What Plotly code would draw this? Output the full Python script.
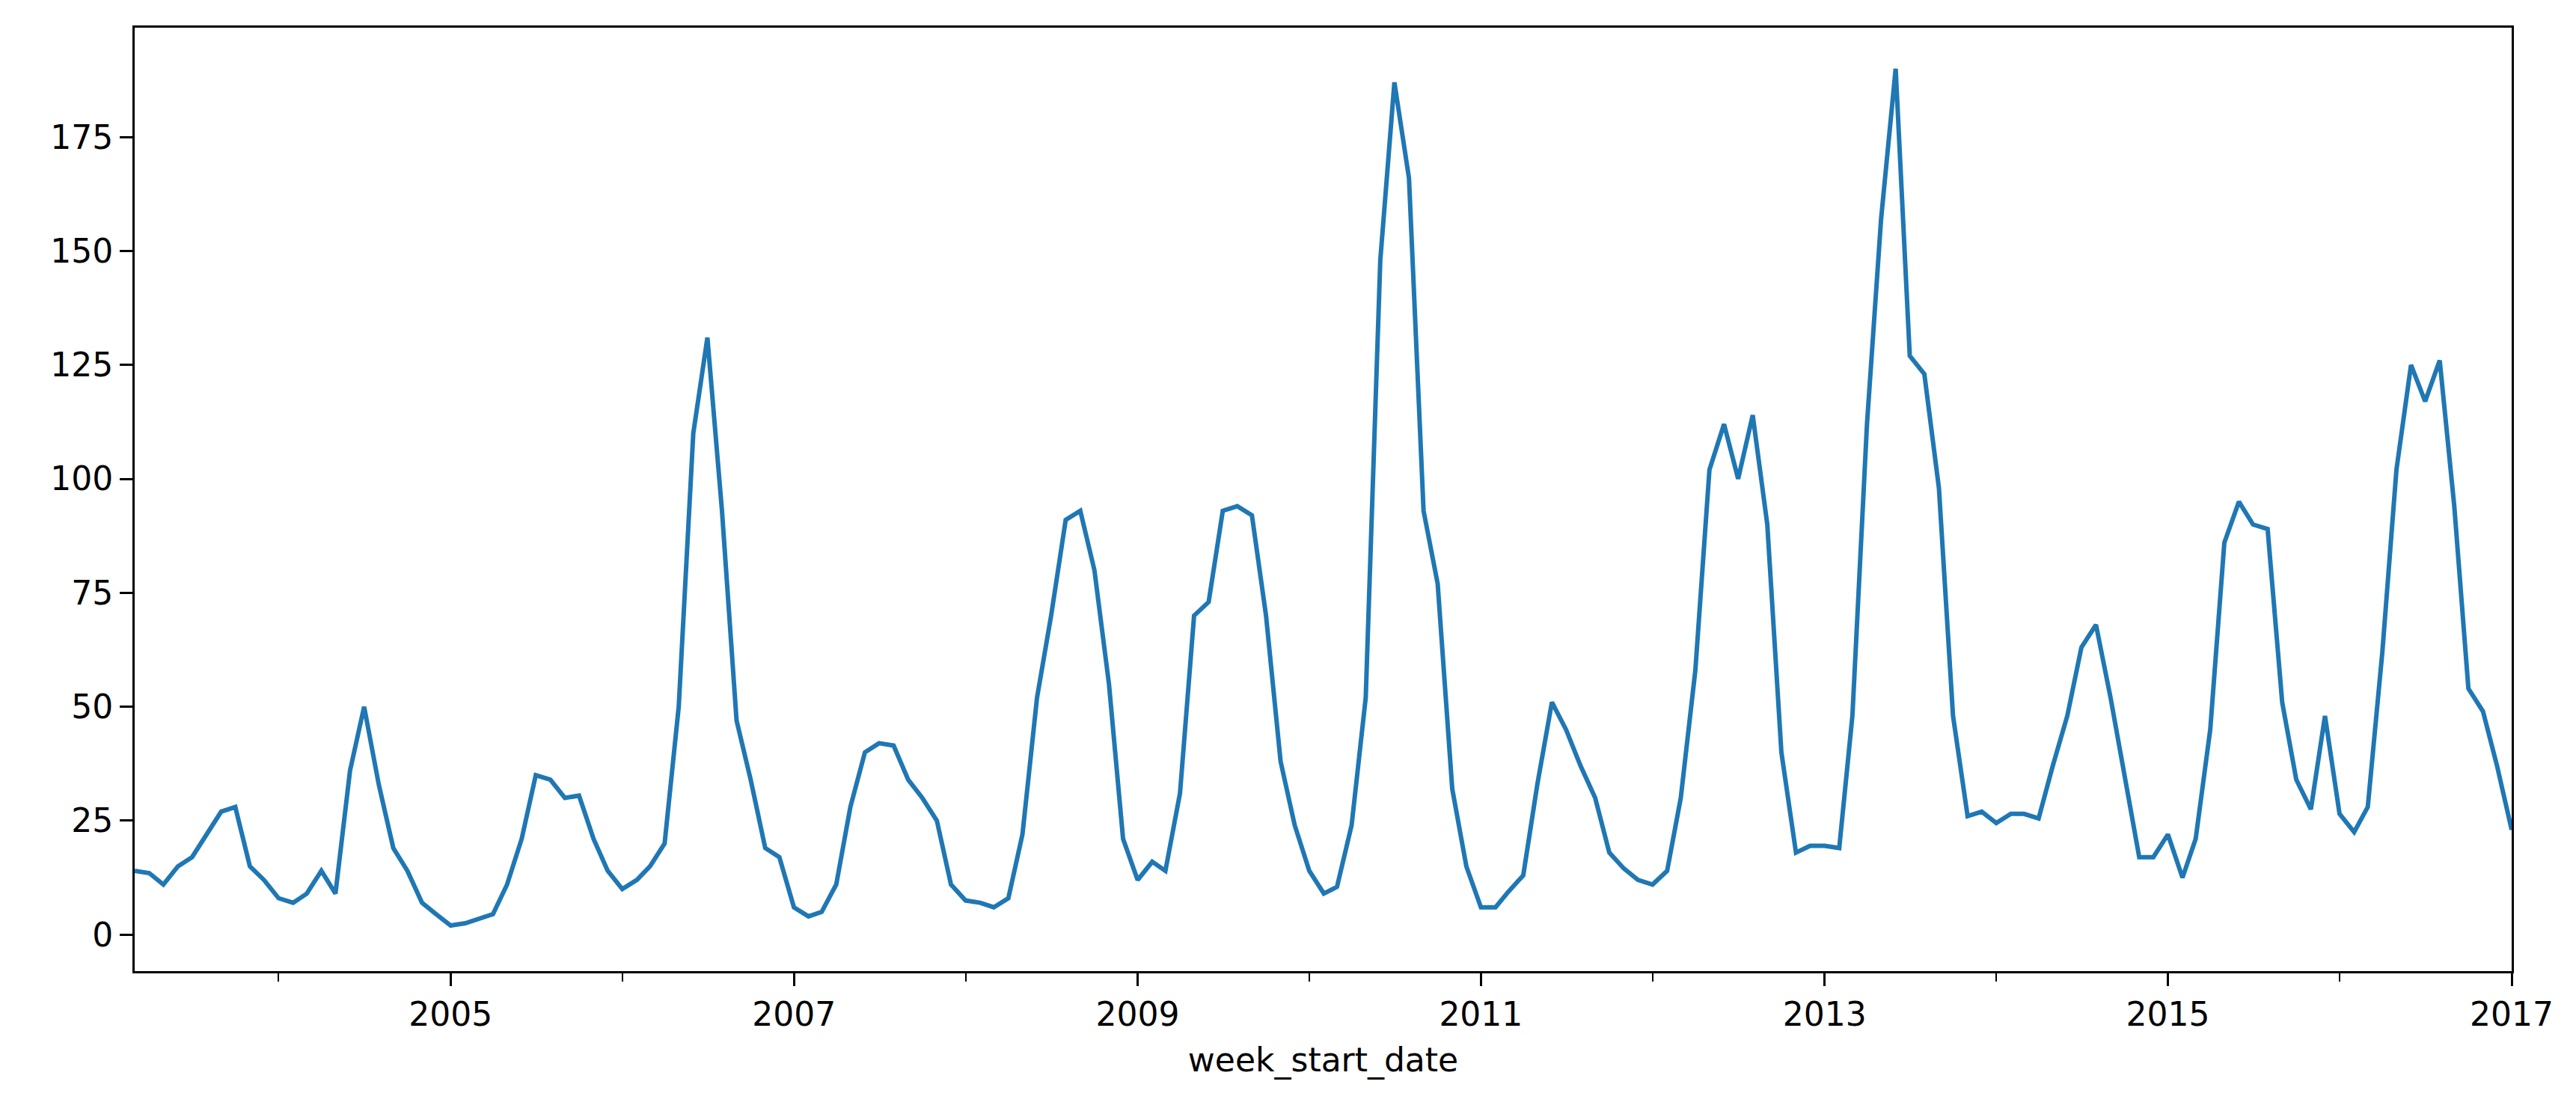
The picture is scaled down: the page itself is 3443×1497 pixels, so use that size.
import plotly.graph_objects as go
import pandas as pd

start_month = "2003-03-01"
values = [
    14, 13.5, 11, 15, 17, 22, 27, 28, 15, 12,
    8, 7, 9, 14, 9, 36, 50, 33, 19, 14, 7, 4.5,
    2, 2.5, 3.5, 4.5, 11, 21, 35, 34, 30, 30.5, 21, 14,
    10, 12, 15, 20, 50, 110, 131, 93, 47, 34, 19, 17,
    6, 4, 5, 11, 28, 40, 42, 41.5, 34, 30, 25, 11,
    7.5, 7, 6, 8, 22, 52, 70, 91, 93, 80, 55, 21,
    12, 16, 14, 31, 70, 73, 93, 94, 92, 70, 38, 24,
    14, 9, 10.5, 24, 52, 148, 187, 166, 93, 77, 32, 15,
    6, 6, 9.5, 13, 33, 51, 45, 37, 30, 18, 14.5, 12,
    11, 14, 30, 58, 102, 112, 100, 114, 90, 40, 18, 19.5,
    19.5, 19, 48, 112, 157, 190, 127, 123, 98, 48, 26, 27,
    24.5, 26.5, 26.5, 25.5, 37, 48, 63, 68, 52, 35, 17, 17,
    22, 12.5, 21, 45, 86, 95, 90, 89, 51, 34, 27.5, 48,
    26.5, 22.5, 28, 62, 102, 125, 117, 126, 94, 54, 49, 37,
    23,
]
dates = pd.date_range(start_month, periods=len(values), freq="MS")

fig = go.Figure(go.Scatter(x=dates, y=values, mode="lines",
                           line=dict(color="#1f77b4", width=6)))

font = dict(family="DejaVu Sans", size=44, color="black")
fig.update_layout(
    width=3443, height=1497,
    paper_bgcolor="white", plot_bgcolor="white",
    margin=dict(l=172, r=94, t=29, b=207),
    showlegend=False, font=font,
)
fig.update_xaxes(
    range=[dates[0], pd.Timestamp("2017-01-01")],
    tick0="2005-01-01", dtick="M24", tickformat="%Y",
    ticks="outside", ticklen=17, tickwidth=2.5, tickcolor="black",
    minor=dict(dtick="M12", tick0="2004-01-01", ticks="outside", ticklen=11, tickwidth=2, tickcolor="black"),
    showline=True, linecolor="black", linewidth=3, mirror=True,
    showgrid=False, zeroline=False,
    title=dict(text="week_start_date", font=font, standoff=22),
    tickfont=font,
)
fig.update_yaxes(
    range=[-8, 199], tickvals=[0, 25, 50, 75, 100, 125, 150, 175],
    ticks="outside", ticklen=17, tickwidth=2.5, tickcolor="black",
    showline=True, linecolor="black", linewidth=3, mirror=True,
    showgrid=False, zeroline=False, tickfont=font,
)
fig.write_html("out.html")
